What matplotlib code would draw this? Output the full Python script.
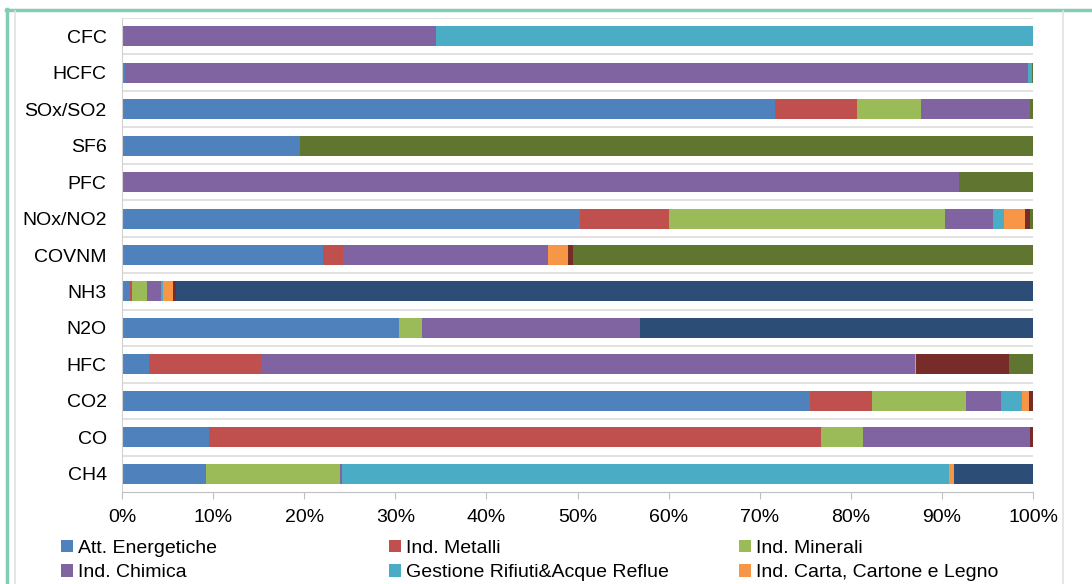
import matplotlib
matplotlib.use("Agg")
import matplotlib.pyplot as plt
import numpy as np
from matplotlib.lines import Line2D
from matplotlib.patches import Patch

plt.rcParams['font.family'] = ['Liberation Sans', 'DejaVu Sans']

categories = ["CFC", "HCFC", "SOx/SO2", "SF6", "PFC", "NOx/NO2", "COVNM",
              "NH3", "N2O", "HFC", "CO2", "CO", "CH4"]

series_names = ["Att. Energetiche", "Ind. Metalli", "Ind. Minerali",
                "Ind. Chimica", "Gestione Rifiuti&Acque Reflue",
                "Ind. Carta, Cartone e Legno", "Altre Industrie",
                "Altre Attività", "Agricoltura"]

series_colors = ["#4F81BD", "#C0504D", "#9BBB59", "#8064A2", "#4BACC6",
                 "#F79646", "#772C2A", "#5F7530", "#2C4D75"]

# percentages per category (order as categories)
att_energetiche = [0.0, 0.3, 71.7, 19.5, 0.0, 50.3, 22.1, 0.9, 30.4, 3.0, 75.5, 9.5, 9.2]
ind_metalli     = [0.0, 0.0, 9.0, 0.0, 0.0, 9.7, 2.2, 0.2, 0.0, 12.3, 6.8, 67.2, 0.0]
ind_minerali    = [0.0, 0.0, 7.0, 0.0, 0.0, 30.3, 0.0, 1.6, 2.5, 0.0, 10.4, 4.6, 14.7]
ind_chimica     = [34.5, 99.2, 12.0, 0.0, 91.9, 5.3, 22.5, 1.6, 24.0, 71.7, 3.8, 18.4, 0.2]
gestione_rifiuti = [65.5, 0.4, 0.0, 0.0, 0.0, 1.2, 0.0, 0.2, 0.0, 0.0, 2.3, 0.0, 66.7]
ind_carta       = [0.0, 0.0, 0.0, 0.0, 0.0, 2.3, 2.2, 1.1, 0.0, 0.2, 0.8, 0.0, 0.5]
altre_industrie = [0.0, 0.0, 0.0, 0.0, 0.0, 0.6, 0.5, 0.3, 0.0, 10.2, 0.4, 0.3, 0.0]
altre_attivita  = [0.0, 0.1, 0.3, 80.5, 8.1, 0.3, 50.5, 0.0, 0.0, 2.6, 0.0, 0.0, 0.0]
agricoltura     = [0.0, 0.0, 0.0, 0.0, 0.0, 0.0, 0.0, 94.1, 43.1, 0.0, 0.0, 0.0, 8.7]

data = [att_energetiche, ind_metalli, ind_minerali, ind_chimica, gestione_rifiuti,
        ind_carta, altre_industrie, altre_attivita, agricoltura]

xtick_values = list(range(0, 101, 10))
xtick_labels = [f"{v}%" for v in xtick_values]

FS = 14

W, H = 1092, 584
fig = plt.figure(figsize=(W / 100, H / 100), dpi=100)

# frame decorations
fig.add_artist(Line2D([6.5 / W, 6.5 / W], [0, 1 - 9 / H], color="#85CDB2", lw=2.5,
                      transform=fig.transFigure))
fig.add_artist(Line2D([5.5 / W, 1], [1 - 9.5 / H, 1 - 9.5 / H], color="#85CDB2", lw=2.5,
                      transform=fig.transFigure))
fig.add_artist(Line2D([14.5 / W, 14.5 / W], [0, 1 - 11 / H], color="#E0E0E0", lw=1.2,
                      transform=fig.transFigure))
fig.add_artist(Line2D([1063 / W, 1063 / W], [0, 1 - 11 / H], color="#E0E0E0", lw=1.2,
                      transform=fig.transFigure))

left, right = 122 / W, 1033 / W
top, bottom = 1 - 18 / H, 1 - 492 / H
ax = fig.add_axes([left, bottom, right - left, top - bottom])

y = np.arange(len(categories))
cum = np.zeros(len(categories))
for vals, name, col in zip(data, series_names, series_colors):
    v = np.array(vals)
    ax.barh(y, v, left=cum, height=0.55, color=col, label=name, edgecolor="none")
    cum += v

ax.set_xlim(0, 100)
ax.set_ylim(len(categories) - 0.5, -0.5)
ax.set_yticks(y)
ax.set_yticklabels(categories, fontsize=FS)
ax.set_xticks(xtick_values)
ax.set_xticklabels(xtick_labels, fontsize=FS)
ax.tick_params(axis='y', length=0, pad=11)
ax.tick_params(axis='x', length=5, color="#BFBFBF", direction='out', pad=7)

# category boundary gridlines
for b in np.arange(-0.5, len(categories) - 0.5, 1.0):
    ax.axhline(b, color="#DCDCDC", lw=1.2, zorder=0)

for s in ["top", "right"]:
    ax.spines[s].set_visible(False)
ax.spines["left"].set_color("#D0D0D0")
ax.spines["bottom"].set_color("#BFBFBF")

# legend: three columns placed individually (row-major order)
col_x = [61, 389, 739]
for c in range(3):
    idx = [c, c + 3]
    handles = [Patch(facecolor=series_colors[i], edgecolor="none") for i in idx]
    labels = [series_names[i] for i in idx]
    leg = fig.legend(handles, labels, loc="upper left",
                     bbox_to_anchor=(col_x[c] / W, 1 - 540 / H), frameon=False,
                     fontsize=FS, handlelength=0.6, handleheight=0.6,
                     handletextpad=0.3, labelspacing=0.38, borderpad=0,
                     borderaxespad=0)

fig.savefig("out.png", dpi=100)
